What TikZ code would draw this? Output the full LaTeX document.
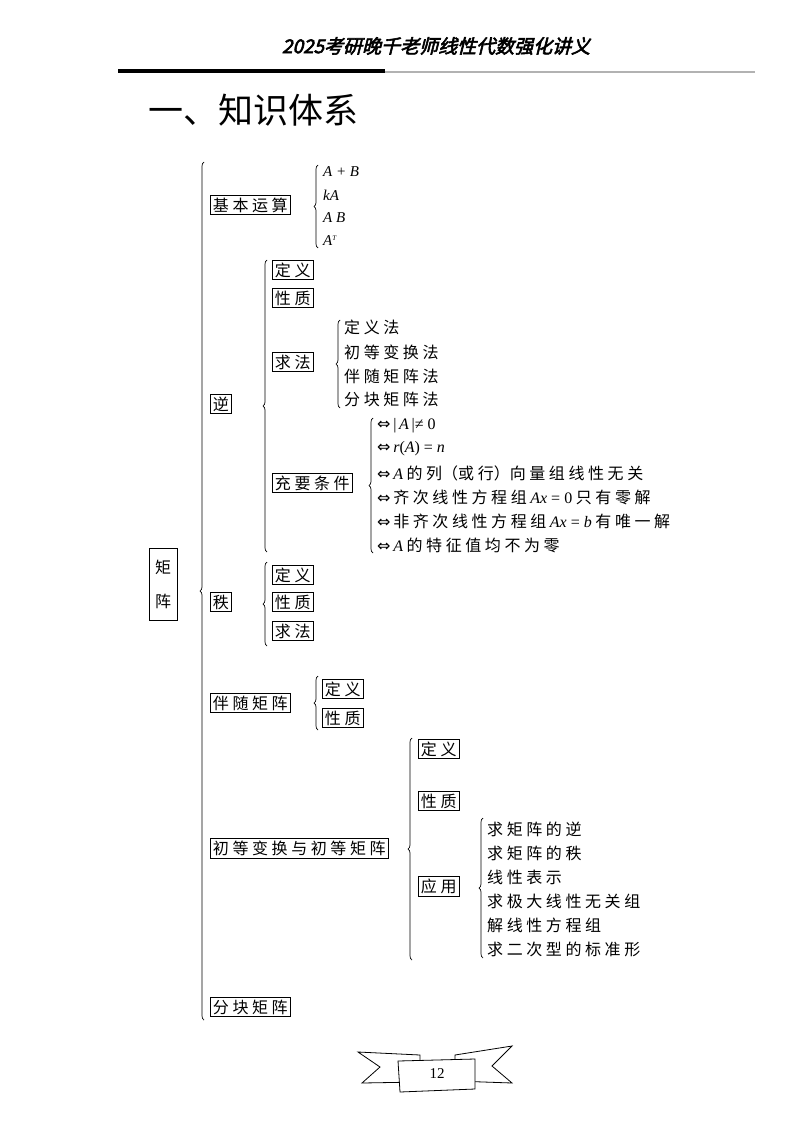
\documentclass[tikz,border=0pt]{standalone}
\usepackage{fontspec}
\setmainfont{Liberation Serif}
\newfontfamily\cjk{Noto Sans CJK SC}
\newfontfamily\cjkhead[FakeSlant=0.25,FakeBold=3]{Noto Sans CJK SC}
\newfontfamily\sym{DejaVu Sans}
\newcommand{\eqv}{{\sym ⇔}\,}
\newcommand{\mv}[1]{{\rmfamily\itshape #1}}
\usetikzlibrary{positioning,decorations.pathreplacing}

\tikzset{
  topic/.style={draw, line width=0.9pt, inner xsep=2.5pt, inner ysep=2.5pt, anchor=west, font=\cjk\fontsize{16}{18}\selectfont},
  leaf/.style={anchor=west, inner sep=1pt, font=\cjk\fontsize{16}{18}\selectfont},
  mleaf/.style={anchor=west, inner sep=1pt, font=\rmfamily\itshape\fontsize{15}{17}\selectfont},
  lbrace/.style={decorate, decoration={brace, amplitude=4pt}, line width=0.7pt}
}

\begin{document}
\begin{tikzpicture}[x=1pt, y=-1pt]
\useasboundingbox (0,0) rectangle (794,1123);

%------------------ HEADER ------------------%
\node[font=\cjkhead\fontsize{19}{21}\selectfont] (head) at (436,46) {2025考研晚千老师线性代数强化讲义};
\draw[line width=4pt] (118,71) -- (385,71);
\draw[line width=2.5pt, gray!60] (385,72) -- (755,72);
\node[anchor=west, font=\cjk\fontsize{35}{38}\selectfont] (title) at (145,110) {一、知识体系};

%------------------ ROOT ------------------%
\node[draw, line width=0.9pt, minimum width=28pt, minimum height=72pt, font=\cjk\fontsize{16}{18}\selectfont, align=center] (root) at (163,584) {矩\\[16pt]阵};
\draw[lbrace] (204,1020) -- (204,162);

\node[topic] (jbys) at (210,205) {基 本 运 算};
\node[topic] (ni)   at (210,404) {逆};
\node[topic] (zhi)  at (210,602) {秩};
\node[topic] (bs)   at (210,703) {伴 随 矩 阵};
\node[topic] (cd)   at (210,848) {初 等 变 换 与 初 等 矩 阵};
\node[topic] (fk)   at (210,1007) {分 块 矩 阵};

% basic operations
\draw[lbrace] (318,248) -- (318,165);
\node[mleaf] (op1) at (322,172) {A + B};
\node[mleaf] (op2) at (322,195) {kA};
\node[mleaf] (op3) at (322,218) {A B};
\node[mleaf] (op4) at (322,241) {A\textsuperscript{\scriptsize T}};

% inverse
\draw[lbrace] (267,552) -- (267,260);
\node[topic] (nidy) at (272,270) {定 义};
\node[topic] (nixz) at (272,298) {性 质};
\node[topic] (niqf) at (272,362) {求 法};
\node[topic] (nicy) at (272,483) {充 要 条 件};

\draw[lbrace] (340,408) -- (340,320);
\node[leaf] (qf1) at (343,327) {定 义 法};
\node[leaf] (qf2) at (343,352) {初 等 变 换 法};
\node[leaf] (qf3) at (343,376) {伴 随 矩 阵 法};
\node[leaf] (qf4) at (343,399) {分 块 矩 阵 法};

\draw[lbrace] (373,553) -- (373,418);
\node[leaf] (cy1) at (376,426) {\eqv{\rmfamily |\,\mv{A}\,|≠ 0}};
\node[leaf] (cy2) at (376,449) {\eqv{\rmfamily\mv{r}(\mv{A}) = \mv{n}}};
\node[leaf] (cy3) at (376,473) {\eqv\mv{A} 的 列（或 行）向 量 组 线 性 无 关};
\node[leaf] (cy4) at (376,497) {\eqv 齐 次 线 性 方 程 组 {\rmfamily\mv{Ax} = 0} 只 有 零 解};
\node[leaf] (cy5) at (376,521) {\eqv 非 齐 次 线 性 方 程 组 {\rmfamily\mv{Ax} = \mv{b}} 有 唯 一 解};
\node[leaf] (cy6) at (376,545) {\eqv\mv{A} 的 特 征 值 均 不 为 零};

% rank
\draw[lbrace] (267,646) -- (267,562);
\node[topic] (zdy) at (272,575) {定 义};
\node[topic] (zxz) at (272,602) {性 质};
\node[topic] (zqf) at (272,631) {求 法};

% adjugate
\draw[lbrace] (318,730) -- (318,676);
\node[topic] (bdy) at (322,689) {定 义};
\node[topic] (bxz) at (322,718) {性 质};

% elementary
\draw[lbrace] (412,960) -- (412,738);
\node[topic] (cdy) at (418,749) {定 义};
\node[topic] (cxz) at (418,801) {性 质};
\node[topic] (cyy) at (418,886) {应 用};

\draw[lbrace] (483,958) -- (483,818);
\node[leaf] (yy1) at (486,829) {求 矩 阵 的 逆};
\node[leaf] (yy2) at (486,853) {求 矩 阵 的 秩};
\node[leaf] (yy3) at (486,877) {线 性 表 示};
\node[leaf] (yy4) at (486,901) {求 极 大 线 性 无 关 组};
\node[leaf] (yy5) at (486,925) {解 线 性 方 程 组};
\node[leaf] (yy6) at (486,949) {求 二 次 型 的 标 准 形};

%------------------ PAGE BANNER ------------------%
\draw[line width=0.8pt, fill=white] (358,1052) -- (420,1055) -- (420,1082) -- (362,1083) -- (380,1067) -- cycle;
\draw[line width=0.8pt, fill=white] (455,1055) -- (512,1046) -- (492,1066) -- (512,1083) -- (455,1081) -- cycle;
\draw[line width=0.8pt, fill=white] (398,1061) -- (475,1059) -- (475,1089) -- (400,1092) -- cycle;
\node[font=\fontsize{15}{17}\selectfont] (pg) at (437,1074) {12};
\end{tikzpicture}
\end{document}
